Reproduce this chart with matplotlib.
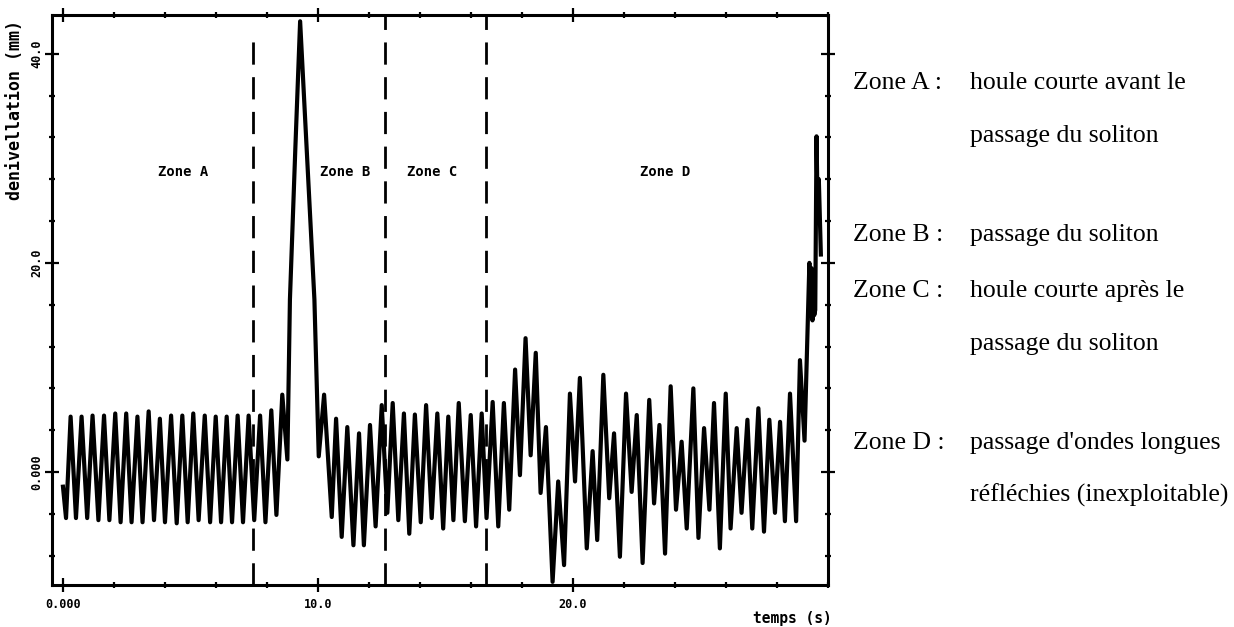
import matplotlib
matplotlib.use("Agg")
import matplotlib.pyplot as plt
from matplotlib.ticker import MultipleLocator

# ---------------- data (successive extrema) ----------------
t_zone_a = [0.00, 0.12, 0.30, 0.51, 0.73, 0.95, 1.16, 1.39, 1.61, 1.82,
            2.05, 2.26, 2.48, 2.69, 2.92, 3.12, 3.36, 3.57, 3.80, 4.00,
            4.24, 4.46, 4.68, 4.89, 5.11, 5.32, 5.56, 5.77, 5.99, 6.20,
            6.42, 6.63, 6.85, 7.06, 7.28, 7.50, 7.73, 7.94, 8.17, 8.37,
            8.60, 8.80]
v_zone_a = [-1.4, -4.4, 5.3, -4.4, 5.3, -4.4, 5.4, -4.6, 5.4, -4.6,
            5.6, -4.8, 5.6, -4.8, 5.3, -4.8, 5.8, -4.6, 5.1, -4.8,
            5.4, -4.9, 5.4, -4.8, 5.6, -4.6, 5.4, -4.8, 5.3, -4.8,
            5.3, -4.8, 5.4, -4.8, 5.4, -4.6, 5.4, -4.8, 5.9, -4.1,
            7.4, 1.2]

t_soliton = [8.90, 9.11, 9.30, 9.56, 9.86, 10.03]
v_soliton = [16.5, 30.8, 43.1, 30.8, 16.5, 1.5]

t_after = [10.24, 10.54, 10.71, 10.93, 11.15, 11.39, 11.61, 11.80, 12.04, 12.26,
           12.50, 12.72, 12.93, 13.15, 13.37, 13.58, 13.80, 14.03, 14.24, 14.46,
           14.68, 14.91, 15.11, 15.31, 15.52, 15.76, 15.99, 16.20, 16.42, 16.61,
           16.85, 17.07, 17.29, 17.50, 17.73, 17.92, 18.14, 18.34, 18.54, 18.73,
           18.94, 19.20, 19.42, 19.65, 19.88, 20.08, 20.27, 20.54, 20.77, 20.95,
           21.19, 21.42, 21.61, 21.84, 22.08, 22.30, 22.50, 22.73, 22.99, 23.18,
           23.39, 23.61, 23.83, 24.04, 24.26, 24.46, 24.72, 24.92, 25.14, 25.35,
           25.53, 25.76, 25.99, 26.18, 26.42, 26.61, 26.84, 27.03, 27.27, 27.49,
           27.70, 27.92, 28.12, 28.31, 28.51, 28.75, 28.90, 29.08]
v_after = [7.4, -4.3, 5.1, -6.2, 4.3, -7.0, 3.7, -7.0, 4.5, -5.2,
           6.4, -3.9, 6.6, -4.6, 5.6, -5.9, 5.5, -4.8, 6.4, -4.4,
           5.6, -5.4, 5.3, -4.6, 6.6, -4.7, 5.45, -5.2, 5.6, -4.4,
           6.7, -5.2, 6.6, -3.6, 9.8, -0.3, 12.8, 1.6, 11.4, -2.0,
           4.3, -10.5, -0.9, -8.9, 7.5, -0.9, 9.0, -7.3, 2.0, -6.5,
           9.3, -2.5, 3.7, -8.1, 7.5, -1.9, 5.45, -8.7, 6.9, -3.0,
           4.5, -7.8, 8.2, -3.6, 2.9, -5.4, 8.0, -6.3, 4.2, -3.6,
           6.6, -7.3, 7.5, -5.4, 4.2, -3.9, 5.0, -5.4, 6.1, -5.7,
           5.0, -3.9, 4.8, -4.7, 7.5, -4.7, 10.7, 3.0]

t_end = [29.27, 29.31, 29.35, 29.39, 29.42, 29.46, 29.50, 29.55, 29.60, 29.64, 29.72]
v_end = [20.0, 15.0, 19.5, 14.5, 18.5, 15.0, 15.5, 32.1, 24.0, 28.0, 20.8]

zone_bounds = [7.44, 12.62, 16.58]
zone_names = ["Zone A", "Zone B", "Zone C", "Zone D"]
zone_label_t = [4.73, 11.06, 14.46, 23.6]
zone_label_v = 28.7

xticks = [0, 10, 20]
xtick_labels = ["0.000", "10.0", "20.0"]
yticks = [0, 20, 40]
ytick_labels = ["0.000", "20.0", "40.0"]

legend_heads = ["Zone A :", "Zone B :", "Zone C :", "Zone D :"]
legend_lines = [["houle courte avant le", "passage du soliton"],
                ["passage du soliton"],
                ["houle courte après le", "passage du soliton"],
                ["passage d'ondes longues", "réfléchies (inexploitable)"]]

# ---------------- figure ----------------
W, H = 1234, 627
fig = plt.figure(figsize=(W / 100, H / 100), dpi=100)
ax = fig.add_axes([52 / W, 1 - 585 / H, (828 - 52) / W, (585 - 15) / H])

t_all = t_zone_a + t_soliton + t_after + t_end
v_all = v_zone_a + v_soliton + v_after + v_end
ax.plot(t_all, v_all, color="black", lw=3.0, solid_joinstyle="round")

ax.set_xlim(-0.43, 30.0)
ax.set_ylim(-10.8, 43.7)

# zone boundaries
tops = [41.3, 43.7, 43.7]
for xb, top in zip(zone_bounds, tops):
    ax.plot([xb, xb], [-10.8, top], color="black", lw=2.0,
            dashes=(8, 4.5), solid_capstyle="butt")

mono = "DejaVu Sans Mono"
for name, tx in zip(zone_names, zone_label_t):
    ax.text(tx, zone_label_v, name, ha="center", va="center",
            family=mono, weight="bold", fontsize=10)

for s in ax.spines.values():
    s.set_linewidth(2.2)

ax.set_xticks(xticks)
ax.set_xticklabels(xtick_labels, family=mono, weight="bold", fontsize=8.5)
ax.set_yticks(yticks)
ax.set_yticklabels(ytick_labels, family=mono, weight="bold", fontsize=8.5,
                   rotation=90, va="center")
ax.xaxis.set_minor_locator(MultipleLocator(2))
ax.yaxis.set_minor_locator(MultipleLocator(4))
ax.tick_params(which="both", direction="inout", top=True, right=True,
               width=1.6, color="black")
ax.tick_params(which="major", length=10)
ax.tick_params(which="minor", length=4)
ax.tick_params(axis="x", which="major", pad=4)
ax.tick_params(axis="y", which="major", pad=1)

fig.text(792 / W, 1 - 619 / H, "temps (s)", ha="center", va="center",
         family=mono, weight="bold", fontsize=10.5)
fig.text(15 / W, 1 - 110 / H, "denivellation (mm)", ha="center", va="center",
         rotation=90, family=mono, weight="bold", fontsize=12)

# explanatory text
serif = "Liberation Serif"
head_base = [89, 241, 297, 449]
line_gap = 53
for head, lines, yb in zip(legend_heads, legend_lines, head_base):
    fig.text(853 / W, 1 - yb / H, head, ha="left", va="baseline",
             family=serif, fontsize=18.5)
    for i, ln in enumerate(lines):
        fig.text(970 / W, 1 - (yb + i * line_gap) / H, ln, ha="left",
                 va="baseline", family=serif, fontsize=18.5)

fig.savefig("out.png", dpi=100)
